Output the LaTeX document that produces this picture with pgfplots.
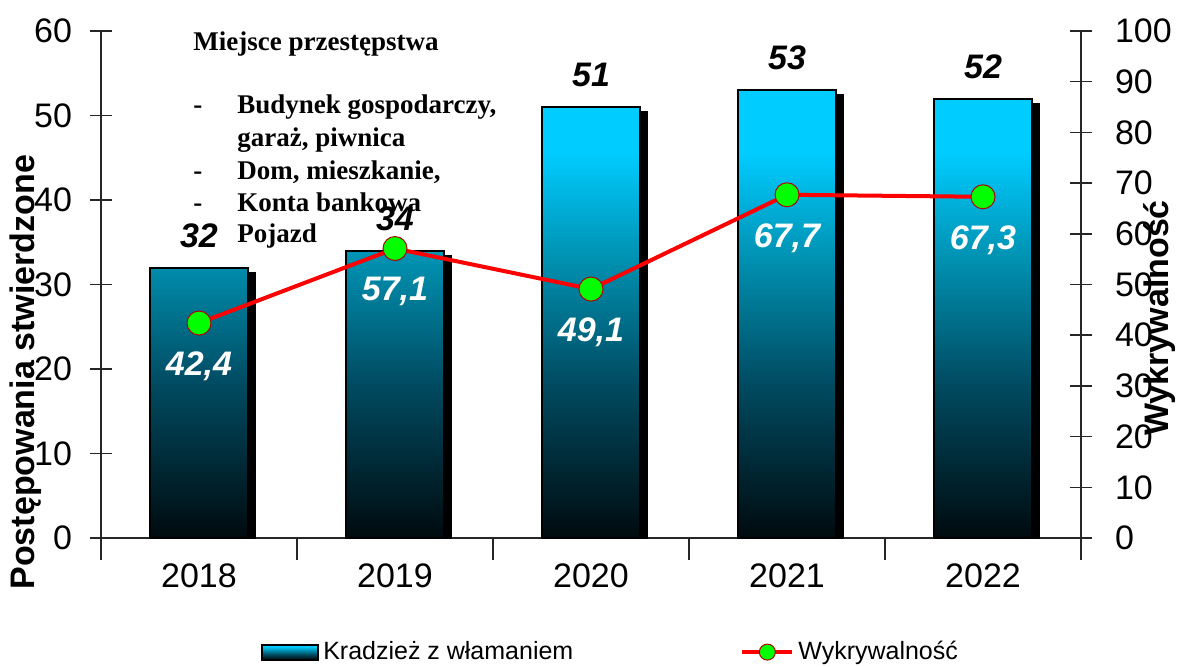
\documentclass[border=0pt]{standalone}
\usepackage{pgfplots}
\pgfplotsset{compat=1.18}
\usetikzlibrary{shadows}
\usepackage{fontspec}
\setmainfont{Liberation Sans}
\newfontfamily\tnr{Liberation Serif}

\definecolor{barcyan}{HTML}{00CCFF}
\definecolor{barmid}{HTML}{0090B0}
\definecolor{bardark}{HTML}{004A60}
\definecolor{barblack}{HTML}{000A0E}
\definecolor{markgreen}{HTML}{00FF00}
\pgfdeclareverticalshading{barshade}{100bp}{color(0bp)=(barblack); color(25bp)=(barblack); color(42bp)=(bardark); color(56bp)=(barmid); color(68bp)=(barcyan); color(100bp)=(barcyan)}
\pgfdeclareverticalshading{solidblack}{100bp}{color(0bp)=(black); color(100bp)=(black)}

\pgfplotsset{
  common/.style={
    scale only axis, width=490pt, height=253.5pt,
    xmin=-0.5, xmax=4.5,
    tick align=center, major tick length=11pt,
    axis line style={black!85, line width=0.75pt},
    tick style={black!85, line width=0.75pt},
    tick label style={font=\fontsize{17}{20}\selectfont},
    /pgf/number format/assume math mode=true,
    label style={font=\fontsize{17}{20}\selectfont\bfseries},
  },
  linelegend/.style={legend image code/.code={\draw[mark repeat=2, mark phase=2, ##1, mark size=4pt] plot coordinates {(0pt,0pt) (12.5pt,0pt) (25pt,0pt)};}},
  barlegend/.style={legend image code/.code={\draw[shading=barshade, draw=black, line width=1pt] (0pt,-3.75pt) rectangle (28pt,3.75pt);}},
}

\begin{document}
\begin{tikzpicture}
\useasboundingbox (-50.5pt,-64pt) rectangle (540pt,269pt);

\begin{scope}[font=\tnr\bfseries\fontsize{13.5}{16}\selectfont]
\node[anchor=base west, inner sep=0pt] at ({(193-101)*0.5pt},{(538-50)*0.5pt}) {Miejsce przestępstwa};
\node[anchor=base west, inner sep=0pt] at ({(193-101)*0.5pt},{(538-113)*0.5pt}) {-};
\node[anchor=base west, inner sep=0pt] at ({(237-101)*0.5pt},{(538-113)*0.5pt}) {Budynek gospodarczy,};
\node[anchor=base west, inner sep=0pt] at ({(237-101)*0.5pt},{(538-146)*0.5pt}) {garaż, piwnica};
\node[anchor=base west, inner sep=0pt] at ({(193-101)*0.5pt},{(538-179)*0.5pt}) {-};
\node[anchor=base west, inner sep=0pt] at ({(237-101)*0.5pt},{(538-179)*0.5pt}) {Dom, mieszkanie,};
\node[anchor=base west, inner sep=0pt] at ({(193-101)*0.5pt},{(538-211)*0.5pt}) {-};
\node[anchor=base west, inner sep=0pt] at ({(237-101)*0.5pt},{(538-211)*0.5pt}) {Konta bankowa};
\node[anchor=base west, inner sep=0pt] at ({(237-101)*0.5pt},{(538-242)*0.5pt}) {Pojazd};
\end{scope}

% bars: Kradziez z wlamaniem
\begin{axis}[common,
  ymin=0, ymax=60, ytick={0,10,...,60},
  axis x line*=bottom, axis y line*=left,
  xtick={-0.5,0.5,...,4.5}, xticklabels={},
  extra x ticks={0,1,2,3,4},
  extra x tick labels={2018,2019,2020,2021,2022},
  extra x tick style={major tick length=0pt},
  xticklabel shift=9.5pt,
  yticklabel shift=5.5pt,
  ylabel={Postępowania stwierdzone},
  ylabel style={at={(axis description cs:-0.0765,0.327)}, anchor=center},
  ybar, bar width=49pt,
]
\addplot[shading=barshade, draw=black, line width=1pt, bar shift=0pt,
  drop shadow={shadow xshift=3.5pt, shadow yshift=-2.5pt, shading=solidblack, fill=black, draw=black, opacity=1},
  nodes near coords,
  nodes near coords style={font=\fontsize{17}{20}\selectfont\bfseries\itshape, text=black, anchor=center, yshift=16pt}]
  coordinates {(0,32) (1,34) (2,51) (3,53) (4,52)};
\end{axis}

% line: Wykrywalnosc
\begin{axis}[common,
  ymin=0, ymax=100, ytick={0,10,...,100},
  axis y line*=right, axis x line=none,
  yticklabel shift=8pt,
  ylabel={Wykrywalność},
  ylabel style={at={(axis description cs:1.0806,0.434)}, anchor=center, rotate=0},
  clip=false,
  legend style={draw=none, fill=none, font=\fontsize{12.5}{14}\selectfont,
    at={(axis description cs:0.521,-0.225)}, anchor=center,
    /tikz/every even column/.append style={column sep=81.5pt}},
  legend columns=2,
]
\addlegendimage{barlegend}
\addlegendentry{Kradzież z włamaniem}
\addplot[red, line width=2pt, mark=*, mark size=6pt,
  mark options={fill=markgreen, draw=red!70!black, line width=0.5pt},
  nodes near coords={\pgfmathprintnumber[fixed, fixed zerofill, precision=1, use comma]{\pgfplotspointmeta}},
  nodes near coords style={font=\fontsize{17}{20}\selectfont\bfseries\itshape, text=white, anchor=center, yshift=-21.5pt},
  linelegend]
  coordinates {(0,42.4) (1,57.1) (2,49.1) (3,67.7) (4,67.3)};
\addlegendentry{Wykrywalność}
\end{axis}
\end{tikzpicture}
\end{document}
